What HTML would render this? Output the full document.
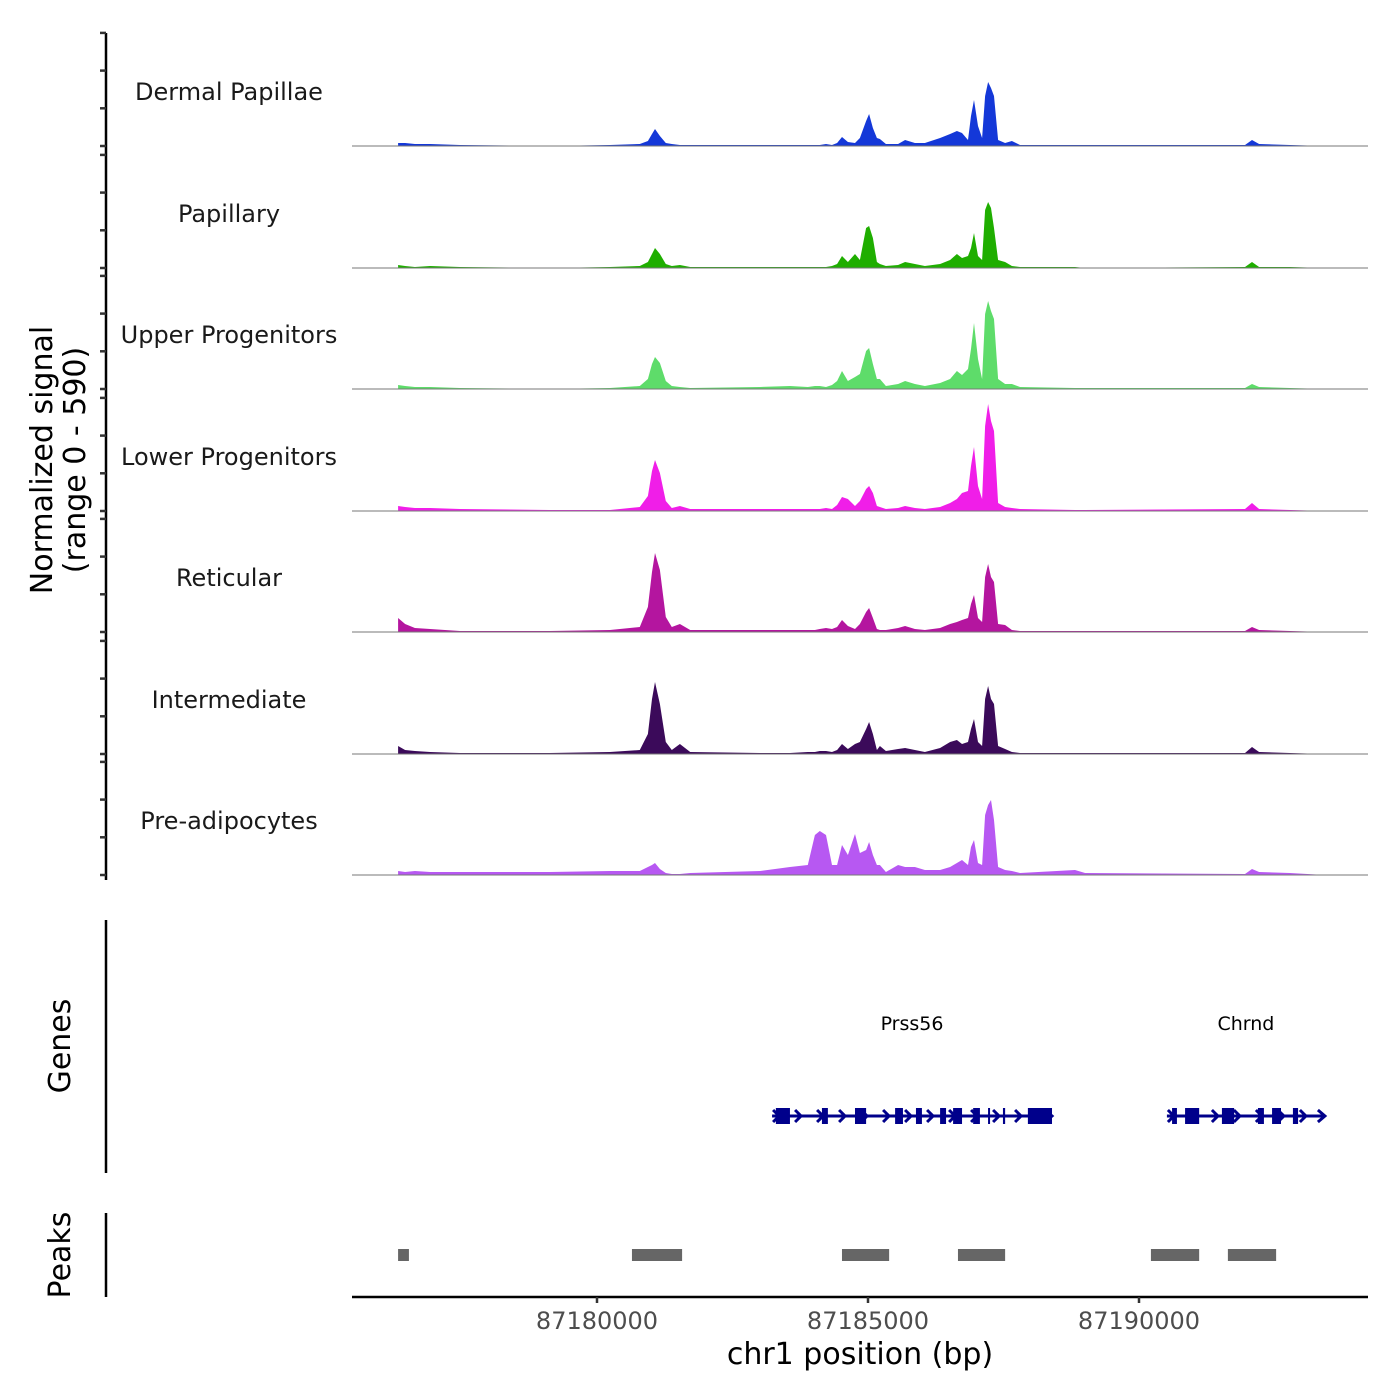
<!DOCTYPE html>
<html><head><meta charset="utf-8"><style>
html,body{margin:0;padding:0;background:#fff;}
svg{display:block;font-family:"DejaVu Sans","Liberation Sans",sans-serif;}
</style></head><body>
<svg id="chart" width="1400" height="1400" viewBox="0 0 1400 1400" xmlns="http://www.w3.org/2000/svg"></svg>
<script>
const trackNames = ["Dermal Papillae","Papillary","Upper Progenitors","Lower Progenitors","Reticular","Intermediate","Pre-adipocytes"];
const trackColors = ["#1438d8","#1fae00","#5edc6a","#f01ee8","#b4159f","#3b0a5a","#b758f2"];
const positions = [87176330,87176460,87176640,87176920,87177470,87179130,87180240,87180790,87180940,87181015,87181070,87181160,87181270,87181380,87181530,87181720,87183010,87183560,87183890,87184020,87184110,87184225,87184335,87184430,87184520,87184630,87184760,87184850,87184965,87185020,87185090,87185165,87185220,87185330,87185555,87185685,87185865,87186050,87186330,87186515,87186640,87186735,87186845,87186900,87186955,87187030,87187105,87187160,87187215,87187270,87187325,87187400,87187530,87187655,87187805,87188820,87189005,87191955,87192085,87192215,87192785,87193430];
const dermalValues = [15,15,10,10,5,0,5,10,25,60,85,50,15,10,5,5,5,5,5,5,5,10,5,15,45,20,15,40,125,160,90,40,35,10,10,30,15,15,40,60,75,65,30,150,230,100,40,250,320,290,250,30,15,25,5,5,5,5,30,10,5,0];
const papillaryValues = [15,10,5,10,5,0,5,10,30,70,100,70,20,10,15,5,5,5,5,5,5,5,10,20,60,30,70,40,200,210,150,30,20,10,15,30,20,10,20,40,70,50,60,100,175,60,40,290,330,300,200,40,30,10,5,5,0,5,30,5,5,0];
const upperValues = [20,15,10,10,5,0,5,15,50,125,160,130,40,15,10,5,10,15,10,15,15,10,20,40,90,40,60,75,190,205,125,50,50,15,25,40,25,15,30,50,90,70,100,200,330,150,50,375,440,390,350,50,25,25,10,5,5,5,25,10,5,0];
const lowerValues = [25,20,15,15,10,5,5,20,75,200,255,190,50,15,25,10,10,10,10,10,10,15,10,30,70,60,25,50,110,125,90,25,20,10,15,25,15,10,20,40,60,90,100,225,320,125,60,425,535,450,400,40,20,15,10,5,5,10,40,10,5,0];
const reticularValues = [70,40,20,15,5,5,10,25,125,300,395,310,75,25,40,10,10,10,10,10,15,20,15,25,60,30,15,40,100,120,70,15,10,10,20,30,15,10,20,40,50,60,70,140,185,70,50,275,340,275,250,40,35,10,5,5,5,5,25,10,5,0];
const intermediateValues = [40,20,15,10,5,5,10,20,100,275,360,250,60,20,50,10,5,5,10,10,15,15,10,20,50,25,50,60,125,160,100,20,40,15,25,30,20,10,30,60,70,50,60,125,175,60,40,275,340,275,250,40,25,10,5,5,5,5,35,10,5,0];
const preadipoValues = [20,15,20,15,15,15,20,20,40,50,60,30,10,5,5,10,20,40,50,200,220,200,50,50,150,100,205,110,125,165,100,50,50,15,50,40,40,25,25,40,60,75,50,140,175,60,50,300,350,375,275,40,25,20,10,25,10,5,30,15,10,0];
const allValues = [dermalValues,papillaryValues,upperValues,lowerValues,reticularValues,intermediateValues,preadipoValues];
const xTicks = [87180000,87185000,87190000];
const geneNames = ["Prss56","Chrnd"];
const geneStarts = [87183230,87190515];
const geneEnds = [87188395,87193430];
const prss56ExonStarts = [87183300,87184150,87184760,87185500,87185885,87186330,87186570,87186940,87187215,87187490,87187950];
const prss56ExonEnds = [87183560,87184260,87184965,87185645,87185995,87186440,87186735,87187065,87187235,87187530,87188395];
const chrndExonStarts = [87190610,87190850,87191530,87192195,87192455,87192840];
const chrndExonEnds = [87190700,87191110,87191755,87192305,87192620,87192935];
const peakStarts = [87176330,87180645,87184520,87186660,87190220,87191640];
const peakEnds = [87176530,87181570,87185390,87187530,87191110,87192530];

const NS="http://www.w3.org/2000/svg";
const svg=document.getElementById('chart');
function mk(tag,attrs,parent){const e=document.createElementNS(NS,tag);for(const k in attrs)e.setAttribute(k,attrs[k]);(parent||svg).appendChild(e);return e;}
const X0=352,X1=1368;
function xScale(bp){return 597+(bp-87180000)*(271/5000);}
const yMax=590, panelPx=118;
const baselines=[146,268,389,511,632,754,875];
function yScale(v,b){return b-v/yMax*panelPx;}

let a=mk('line',{x1:106,y1:33,x2:106,y2:880,stroke:'#000','stroke-width':2.5});

baselines.forEach(b=>{for(let k=0;k<4;k++){const y=b-k*37.7;const t=mk('line',{x1:100,y1:y,x2:106,y2:y,stroke:'#333','stroke-width':2.5});
}});
let yt=mk('text',{x:0,y:0,transform:'translate(52,460) rotate(-90)','text-anchor':'middle','font-size':30,fill:'#000'});

yt.innerHTML='<tspan x="0" dy="0">Normalized signal</tspan><tspan x="0" dy="33">(range 0 - 590)</tspan>';

allValues.forEach((vals,i)=>{
  const b=baselines[i];
  let d='M'+xScale(positions[0]).toFixed(1)+','+b;
  positions.forEach((p,j)=>{d+=' L'+xScale(p).toFixed(1)+','+yScale(vals[j],b).toFixed(1);});
  d+=' L'+xScale(positions[positions.length-1]).toFixed(1)+','+b+' Z';
  const area=mk('path',{d:d,fill:trackColors[i]});
  
  
  const bl=mk('line',{x1:X0,y1:b,x2:X1,y2:b,stroke:'#777','stroke-width':1});
  
  const lab=mk('text',{x:229,y:b-46,'text-anchor':'middle','font-size':24,fill:'#1a1a1a'});
  lab.textContent=trackNames[i];
  
});

let ga=mk('line',{x1:106,y1:920,x2:106,y2:1173,stroke:'#000','stroke-width':2.5});

let gt=mk('text',{x:0,y:0,transform:'translate(70,1046) rotate(-90)','text-anchor':'middle','font-size':30});
gt.textContent='Genes';
const exonS=[prss56ExonStarts,chrndExonStarts], exonE=[prss56ExonEnds,chrndExonEnds];
const gy=1116;
geneNames.forEach((g,i)=>{
  const x1=xScale(geneStarts[i]),x2=xScale(geneEnds[i]);
  const grp=mk('g',{});
  mk('line',{x1:x1,y1:gy,x2:x2,y2:gy,stroke:'#00008b','stroke-width':3},grp);
  for(let x=x1+4;x<x2-4;x+=22){mk('polyline',{points:(x-3)+','+(gy-6)+' '+(x+3)+','+gy+' '+(x-3)+','+(gy+6),fill:'none',stroke:'#00008b','stroke-width':3},grp);}
  mk('polyline',{points:(x2-7)+','+(gy-6)+' '+(x2)+','+gy+' '+(x2-7)+','+(gy+6),fill:'none',stroke:'#00008b','stroke-width':3},grp);
  exonS[i].forEach((s,j)=>{const ex=xScale(s),ew=Math.max(2,xScale(exonE[i][j])-ex);
    mk('rect',{x:ex,y:gy-8,width:ew,height:16,fill:'#00008b'},grp);});
  const t=mk('text',{x:(x1+x2)/2,y:1030,'text-anchor':'middle','font-size':19,fill:'#000'});
  t.textContent=g;
});

let pa=mk('line',{x1:106,y1:1213,x2:106,y2:1297,stroke:'#000','stroke-width':2.5});

let pt=mk('text',{x:0,y:0,transform:'translate(70,1255) rotate(-90)','text-anchor':'middle','font-size':30});
pt.textContent='Peaks';
peakStarts.forEach((s,i)=>{const r=mk('rect',{x:xScale(s),y:1249,width:xScale(peakEnds[i])-xScale(s),height:12,fill:'#666'});
  });

let xa=mk('line',{x1:X0,y1:1297,x2:X1,y2:1297,stroke:'#000','stroke-width':2.5});

xTicks.forEach(t=>{const x=xScale(t);
  const tk=mk('line',{x1:x,y1:1297,x2:x,y2:1303,stroke:'#333','stroke-width':2.5});
  
  const l=mk('text',{x:x,y:1329,'text-anchor':'middle','font-size':24,fill:'#4d4d4d'});
  l.textContent=t;});
let xt=mk('text',{x:860,y:1364,'text-anchor':'middle','font-size':30,fill:'#000'});
xt.textContent='chr1 position (bp)';
</script>
</body></html>
